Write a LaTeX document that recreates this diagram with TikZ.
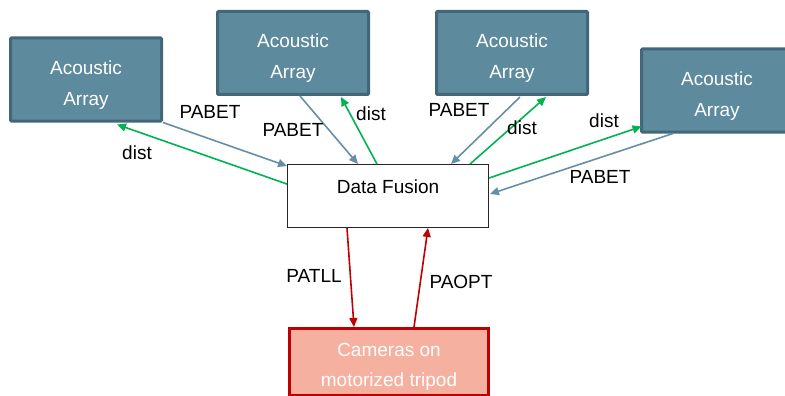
\documentclass[tikz,border=0pt]{standalone}
\usepackage{fontspec}
\setmainfont{Liberation Sans}
\usetikzlibrary{arrows.meta,calc}
\definecolor{boxfill}{RGB}{94,138,157}
\definecolor{boxline}{RGB}{66,103,120}
\definecolor{pabetc}{RGB}{100,143,165}
\definecolor{distc}{RGB}{0,178,80}
\definecolor{redc}{RGB}{192,0,0}
\definecolor{camfill}{RGB}{245,176,160}
\tikzset{
  acoustic/.style={draw=boxline, fill=boxfill, line width=3pt, rounded corners=1pt,
    minimum width=151pt, minimum height=83pt, inner sep=0pt, text=white, align=center,
    font=\fontsize{19}{31}\selectfont},
  fusion/.style={draw=black!85, fill=white, line width=0.9pt, minimum width=201pt,
    minimum height=63pt, inner sep=0pt},
  cam/.style={draw=redc, fill=camfill, line width=3pt, minimum width=199pt,
    minimum height=67pt, inner sep=0pt, text=white, align=center,
    font=\fontsize{19}{30}\selectfont},
  lbl/.style={inner sep=0pt, font=\fontsize{19}{22}\selectfont, text=black},
  tip/.style={-{Triangle[length=9pt,width=8pt]}},
  pabet/.style={tip, draw=pabetc, line width=1.6pt},
  distarr/.style={tip, draw=distc, line width=1.6pt},
  redarr/.style={tip, draw=redc, line width=1.6pt},
}
\newcommand{\toppad}[1]{\rule{0pt}{#1}}
\begin{document}
\begin{tikzpicture}[x=1pt,y=-1pt]
\useasboundingbox (0,0) rectangle (785,396);
\begin{scope}
\clip (0,0) rectangle (785,396);
\node[acoustic] (b1) at (86,79.5) {\toppad{24pt}Acoustic\\Array};
\node[acoustic] (b2) at (293,53) {\toppad{24pt}Acoustic\\Array};
\node[acoustic] (b3) at (512,53) {\toppad{24pt}Acoustic\\Array};
\node[acoustic] (b4) at (717,90.5) {\toppad{24pt}Acoustic\\Array};
\node[fusion] (df) at (388,196) {};
\node[lbl] (dft) at (388,187) {Data Fusion};
\node[cam] (cam) at (389,362) {\toppad{22pt}Cameras on\\motorized tripod};

% arrows
\draw[pabet] (b1.south east) -- ($(df.north west)+(0,2)$);
\draw[distarr] ($(df.north west)+(0,20)$) -- ($(b1.south)+(31,2)$);
\draw[pabet] ($(b2.south)+(7,0)$) -- ($(df.north)+(-30,0)$);
\draw[distarr] ($(df.north)+(-11,0)$) -- ($(b2.south)+(48,1)$);
\draw[pabet] ($(b3.south)+(8,1)$) -- ($(df.north)+(63,0)$);
\draw[distarr] ($(df.north)+(82,0)$) -- ($(b3.south)+(34,1)$);
\draw[distarr] ($(df.north east)+(0,14)$) -- ($(b4.south west)+(1.5,-7)$);
\draw[pabet] ($(b4.south west)+(33,0)$) -- ($(df.east)+(1,-2)$);
\draw[redarr] ($(df.south)+(-41,0)$) -- ($(cam.north)+(-35,0)$);
\draw[redarr] ($(cam.north)+(25,0)$) -- ($(df.south)+(40,0)$);

% labels
\node[lbl] (l1) at (210,112) {PABET};
\node[lbl] (l2) at (137,153) {dist};
\node[lbl] (l3) at (293,130) {PABET};
\node[lbl] (l4) at (371,114) {dist};
\node[lbl] (l5) at (459,110) {PABET};
\node[lbl] (l6) at (522,128) {dist};
\node[lbl] (l7) at (604,121) {dist};
\node[lbl] (l8) at (600,177) {PABET};
\node[lbl] (l9) at (314,276) {PATLL};
\node[lbl] (l10) at (461,282) {PAOPT};
\end{scope}
\end{tikzpicture}
\end{document}
